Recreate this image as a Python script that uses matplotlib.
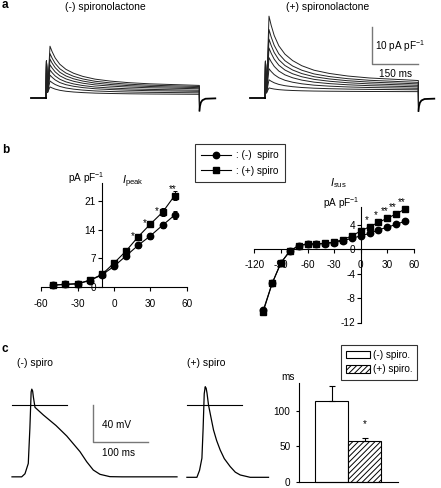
import matplotlib
matplotlib.use('Agg')
import matplotlib.pyplot as plt

plt.rcParams['font.family'] = ['Liberation Sans', 'DejaVu Sans']
plt.rcParams['mathtext.fontset'] = 'custom'
plt.rcParams['mathtext.rm'] = 'Liberation Sans'
plt.rcParams['mathtext.it'] = 'Liberation Sans:italic'
plt.rcParams['mathtext.bf'] = 'Liberation Sans:bold'
plt.rcParams['font.size'] = 7.2
plt.rcParams['hatch.linewidth'] = 0.7
plt.rcParams['axes.linewidth'] = 0.8

W, H = 441, 488
FS = 7.2

# ---------------- Panel a : current traces (pA/pF vs ms) ----------------
a_onset_t = [-50, 0, 1.5, 5]
a_onset_v = [0, 0, 10, 1.5]
a_decay_t = [13, 20, 30, 45, 65, 90, 120, 160, 210, 270, 340, 420, 500]
a_decay_shape = [1.0, 0.86, 0.70, 0.54, 0.41, 0.31, 0.23, 0.16, 0.11, 0.07, 0.04, 0.02, 0.0]
a_tail_t = [500, 500.5, 502, 505, 510, 520, 552]
a_tail_v = [0, -3.4, -2.2, -1.2, -0.6, -0.2, -0.1]
a_peak_minus = [14.0, 12.0, 10.5, 9.0, 7.6, 6.2, 4.6, 3.0]
a_sus_minus = [3.4, 3.1, 2.8, 2.5, 2.1, 1.8, 1.4, 1.0]
a_peak_plus = [22.2, 18.6, 16.0, 13.6, 11.0, 8.0, 5.0, 2.8]
a_sus_plus = [4.8, 4.3, 3.9, 3.5, 3.1, 2.7, 2.3, 1.8]

# ---------------- Panel b : I-V relations ----------------
peak_V = [-50, -40, -30, -20, -10, 0, 10, 20, 30, 40, 50]
peak_minus = [0.4, 0.55, 0.7, 1.5, 2.9, 5.0, 7.6, 10.2, 12.5, 15.1, 17.6]
peak_minus_err = [0.2, 0.2, 0.2, 0.3, 0.4, 0.4, 0.5, 0.6, 0.7, 0.8, 1.0]
peak_plus = [0.4, 0.6, 0.75, 1.6, 3.0, 5.8, 8.8, 12.3, 15.4, 18.3, 22.4]
peak_plus_err = [0.2, 0.2, 0.2, 0.3, 0.4, 0.5, 0.6, 0.6, 0.8, 1.0, 1.2]
peak_sig_V = [20, 30, 40, 50]
peak_sig = ['*', '*', '*', '**']

sus_V = [-110, -100, -90, -80, -70, -60, -50, -40, -30, -20, -10, 0, 10, 20, 30, 40, 50]
sus_minus = [-10.0, -5.6, -2.2, -0.3, 0.6, 0.85, 0.85, 0.95, 1.1, 1.4, 1.8, 2.2, 2.6, 3.2, 3.6, 4.1, 4.6]
sus_plus = [-10.2, -5.6, -2.2, -0.3, 0.6, 0.9, 0.9, 1.0, 1.2, 1.6, 2.2, 3.0, 3.7, 4.4, 5.1, 5.8, 6.6]
sus_sig_V = [10, 20, 30, 40, 50]
sus_sig = ['*', '*', '**', '**', '**']

# ---------------- Panel c : action potentials and APD ----------------
apL_t = [0, 17.6, 23.6, 29.6, 32.5, 34.8, 36.0, 37.5, 39.0, 41.8, 57, 80, 99.5, 123.6, 135.8, 147.8, 160, 178, 200, 300]
apL_v = [-77, -77, -73.7, -62.7, -25, 14, 17, 15, 8, -2.5, -10.7, -22, -33.2, -50, -60.8, -69.7, -74.3, -76.8, -77, -77]
apR_t = [0, 18.2, 23, 27.3, 29.5, 31.5, 33.3, 35, 36.5, 39.3, 44, 48.4, 54, 60.5, 68, 78.7, 88, 97, 115, 148.4]
apR_v = [-77.5, -77.5, -70, -57, -25, 12, 19.6, 18, 13, 0, -14, -26.8, -38, -48.2, -57.5, -66, -72, -75, -77.5, -77.5]
zero_line_t = [0, 100]
zero_line_v = [0, 0]

apd_labels = ['(-) spiro.', '(+) spiro.']
apd_values = [113, 57]
apd_err = [22, 5]

# ---------------- figure ----------------
fig = plt.figure(figsize=(W / 100, H / 100), dpi=100)


def axes_px(l, t, r, b, x0, xs, y0, ys):
    ax = fig.add_axes([l / W, 1 - b / H, (r - l) / W, (b - t) / H])
    ax.set_xlim((l - x0) / xs, (r - x0) / xs)
    ax.set_ylim((y0 - b) / ys, (y0 - t) / ys)
    ax.patch.set_alpha(0)
    return ax


def ftext(px, py, s, **kw):
    fig.text(px / W, 1 - py / H, s, **kw)


# panel letters
ftext(2, 5, 'a', fontsize=8.5, fontweight='bold', va='center')
ftext(2, 150, 'b', fontsize=8.5, fontweight='bold', va='center')
ftext(2, 349, 'c', fontsize=8.5, fontweight='bold', va='center')

# ---- panel a ----
def draw_traces(ax, peaks, suss):
    for p, s in zip(peaks, suss):
        tt = a_onset_t[1:] + a_decay_t + [a_tail_t[1]]
        vv = a_onset_v[1:] + [s + (p - s) * sh for sh in a_decay_shape] + [a_tail_v[1]]
        ax.plot(tt, vv, color='#222222', lw=0.7)
    ax.plot(a_onset_t[:2], a_onset_v[:2], color='black', lw=1.3)
    ax.plot(a_tail_t[1:], a_tail_v[1:], color='black', lw=1.3)
    ax.axis('off')


axL = axes_px(20, 12, 225, 118, 46, 46 / 150, 98, 3.7)
draw_traces(axL, a_peak_minus, a_sus_minus)
axR = axes_px(240, 12, 441, 118, 265, 46 / 150, 98.3, 3.7)
draw_traces(axR, a_peak_plus, a_sus_plus)
# scale bar
axR.plot([349, 349, 499], [19.3, 9.3, 9.3], color='#777777', lw=1.0)
axR.text(360, 14.1, r'10 pA pF$^{-1}$', ha='left', va='center', fontsize=FS)
axR.text(424, 6.6, '150 ms', ha='center', va='center', fontsize=FS)
ftext(105, 7, '(-) spironolactone', ha='center', va='center', fontsize=7.5)
ftext(328, 7, '(+) spironolactone', ha='center', va='center', fontsize=7.5)

# ---- panel b left ----
def style_iv(ax, ycross, xb, yb, xticks, yticks, xpad, ypad):
    for s in ['top', 'right']:
        ax.spines[s].set_visible(False)
    ax.spines['left'].set_position(('data', ycross))
    ax.spines['bottom'].set_position(('data', 0))
    ax.spines['bottom'].set_bounds(*xb)
    ax.spines['left'].set_bounds(*yb)
    ax.set_xticks(xticks)
    ax.set_yticks(yticks)
    ax.set_xticklabels([str(v) for v in xticks])
    ax.set_yticklabels([str(v) for v in yticks])
    ax.tick_params(axis='x', direction='out', length=2.6, width=0.8, pad=xpad, labelsize=FS)
    ax.tick_params(axis='y', direction='out', length=2.8, width=0.8, pad=ypad, labelsize=FS)


axP = axes_px(30, 172, 205, 300, 114, 1.214, 286.7, 4.07)
style_iv(axP, -10, (-60, 60), (0, 25.5), [-60, -30, 0, 30, 60], [0, 7, 14, 21], 6, 1.5)
axP.errorbar(peak_V, peak_minus, yerr=peak_minus_err, fmt='none', ecolor='black', elinewidth=0.7, capsize=1.5, capthick=0.7)
axP.errorbar(peak_V, peak_plus, yerr=peak_plus_err, fmt='none', ecolor='black', elinewidth=0.7, capsize=1.5, capthick=0.7)
lc, = axP.plot(peak_V, peak_minus, '-o', color='black', lw=0.8, ms=4.6)
ls, = axP.plot(peak_V, peak_plus, '-s', color='black', lw=0.8, ms=4.6)
for v, s in zip(peak_sig_V, peak_sig):
    i = peak_V.index(v)
    off = (-6, 1) if s == '*' else (-2, 6)
    axP.annotate(s, xy=(v, peak_plus[i]), xytext=off, textcoords='offset pixels',
                 ha='center', va='center', fontsize=7, zorder=5)
ftext(86, 178, r'pA pF$^{-1}$', ha='center', va='center', fontsize=FS)
ftext(122, 182, r'$I_{\mathrm{peak}}$', ha='left', va='center', fontsize=7.8)

leg = fig.legend(handles=[lc, ls], labels=[': (-)  spiro', ': (+) spiro'],
                 loc='upper left', bbox_to_anchor=(195 / W, 1 - 144 / H),
                 bbox_transform=fig.transFigure, fontsize=FS, frameon=True, fancybox=False,
                 edgecolor='black', handlelength=3.0, handletextpad=0.5, labelspacing=0.55,
                 borderpad=0.6, borderaxespad=0)
leg.get_frame().set_linewidth(0.8)

# ---- panel b right ----
axS = axes_px(245, 195, 420, 326, 360.7, 0.886, 249.3, 6.1)
style_iv(axS, 0, (-120, 60), (-12, 7), [-120, -90, -60, -30, 0, 30, 60], [-12, -8, -4, 0, 4], 5, 1.0)
axS.plot(sus_V, sus_minus, '-o', color='black', lw=0.8, ms=4.6)
axS.plot(sus_V, sus_plus, '-s', color='black', lw=0.8, ms=4.6)
for v, s in zip(sus_sig_V, sus_sig):
    i = sus_V.index(v)
    axS.annotate(s, xy=(v, sus_plus[i]), xytext=(-3, 7), textcoords='offset pixels',
                 ha='center', va='center', fontsize=7, zorder=5)
ftext(330, 183, r'$I_{\mathrm{sus}}$', ha='left', va='center', fontsize=7.8)
ftext(341, 203, r'pA pF$^{-1}$', ha='center', va='center', fontsize=FS)

# ---- panel c traces ----
AP_OFFSET = 318
axC = axes_px(0, 372, 282, 487, 12, 0.55, 405, 0.933)
axC.axis('off')
axC.plot(apL_t, apL_v, color='black', lw=0.9)
axC.plot(zero_line_t, zero_line_v, color='black', lw=0.8)
axC.plot([t + AP_OFFSET for t in apR_t], apR_v, color='black', lw=0.9)
axC.plot([t + AP_OFFSET for t in zero_line_t], zero_line_v, color='black', lw=0.8)
axC.plot([148, 148, 248], [0, -40, -40], color='#777777', lw=1.0)
axC.text(164, -21, '40 mV', ha='left', va='center', fontsize=FS)
axC.text(164, -51, '100 ms', ha='left', va='center', fontsize=FS)
ftext(17, 363, '(-) spiro', ha='left', va='center', fontsize=7.5)
ftext(187, 363, '(+) spiro', ha='left', va='center', fontsize=7.5)

# ---- panel c bars ----
axB = axes_px(285, 378, 405, 487, 331.7, 33, 481.7, 0.71)
for s in ['top', 'right']:
    axB.spines[s].set_visible(False)
axB.spines['left'].set_position(('data', -1.0))
axB.spines['left'].set_bounds(0, 139)
axB.spines['bottom'].set_position(('data', 0))
axB.spines['bottom'].set_bounds(-1.0, 2.0)
bars = axB.bar([0, 1], apd_values, width=1.0, color='white', edgecolor='black', linewidth=0.8)
bars[1].set_hatch('//////')
axB.errorbar([0, 1], apd_values, yerr=[[0, 0], apd_err], fmt='none', ecolor='black',
             elinewidth=0.8, capsize=2.5, capthick=0.8)
axB.annotate('*', xy=(1, apd_values[1] + apd_err[1]), xytext=(0, 14), textcoords='offset pixels',
             ha='center', va='center', fontsize=7)
axB.set_xticks([])
axB.set_yticks([0, 50, 100])
axB.tick_params(axis='y', direction='out', length=2.4, width=0.8, pad=3.5, labelsize=FS)
ftext(288, 377, 'ms', ha='center', va='center', fontsize=FS)
leg2 = axB.legend(handles=[bars[0], bars[1]], labels=apd_labels, loc='upper left',
                  bbox_to_anchor=(340.7 / W, 1 - 345 / H), bbox_transform=fig.transFigure,
                  fontsize=FS, frameon=True, fancybox=False, edgecolor='black',
                  handlelength=2.4, handleheight=0.8, handletextpad=0.3, labelspacing=0.45,
                  borderpad=0.5, borderaxespad=0)
leg2.get_frame().set_linewidth(0.8)

fig.savefig('out.png', dpi=100)
